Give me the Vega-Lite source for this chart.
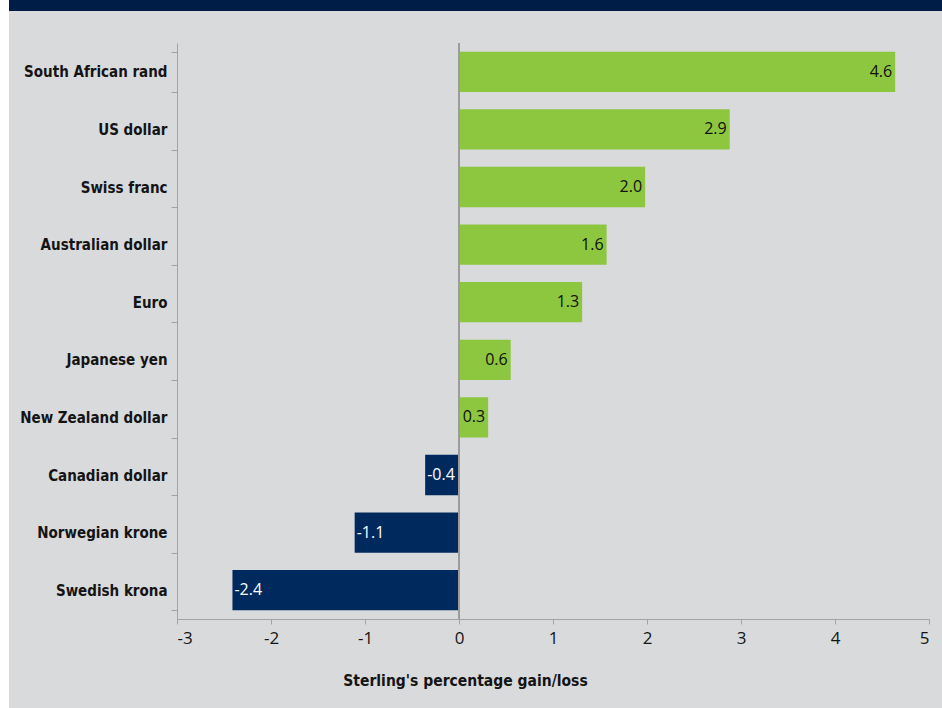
{
  "$schema": "https://vega.github.io/schema/vega-lite/v6.json",
  "background": "#d9dadc",
  "padding": 0,
  "spacing": 0,
  "config": {"view": {"stroke": null}},
  "hconcat": [
    {
      "width": 9,
      "height": 708,
      "view": {"fill": "#ffffff", "stroke": null},
      "data": {"values": []},
      "mark": "rect"
    },
    {
      "spacing": 25,
      "vconcat": [
        {
          "width": 933,
          "height": 11,
          "view": {"fill": "#001d48", "stroke": null},
          "data": {"values": []},
          "mark": "rect"
        },
        {
          "spacing": 0,
          "hconcat": [
            {
              "width": 1,
              "height": 1,
              "view": {"stroke": null},
              "data": {"values": []},
              "mark": "rect"
            },
            {
              "width": 752,
              "height": 576,
              "data": {
                "values": [
                  {"currency": "South African rand", "change": 4.64, "label": "4.6"},
                  {"currency": "US dollar", "change": 2.88, "label": "2.9"},
                  {"currency": "Swiss franc", "change": 1.98, "label": "2.0"},
                  {"currency": "Australian dollar", "change": 1.57, "label": "1.6"},
                  {"currency": "Euro", "change": 1.31, "label": "1.3"},
                  {"currency": "Japanese yen", "change": 0.55, "label": "0.6"},
                  {"currency": "New Zealand dollar", "change": 0.31, "label": "0.3"},
                  {"currency": "Canadian dollar", "change": -0.36, "label": "-0.4"},
                  {"currency": "Norwegian krone", "change": -1.11, "label": "-1.1"},
                  {"currency": "Swedish krona", "change": -2.41, "label": "-2.4"}
                ]
              },
              "layer": [
                {
                  "mark": {"type": "bar"},
                  "encoding": {
                    "y": {
                      "field": "currency",
                      "type": "nominal",
                      "sort": null,
                      "scale": {"paddingInner": 0.3, "paddingOuter": 0.15},
                      "axis": {
                        "title": null,
                        "domainColor": "#a3a3a3",
                        "tickColor": "#a3a3a3",
                        "tickBand": "extent",
                        "tickSize": 6,
                        "labelPadding": 4,
                        "labelFont": "DejaVu Sans Condensed",
                        "labelFontWeight": "bold",
                        "labelFontSize": 15,
                        "labelColor": "#141414",
                        "labelLimit": 300,
                        "minExtent": 167,
                        "maxExtent": 167
                      }
                    },
                    "x": {
                      "field": "change",
                      "type": "quantitative",
                      "scale": {"domain": [-3, 5], "nice": false, "zero": false},
                      "axis": {
                        "values": [-3, -2, -1, 0, 1, 2, 3, 4, 5],
                        "labelExpr": "'' + datum.value",
                        "grid": false,
                        "domainColor": "#a3a3a3",
                        "tickColor": "#a3a3a3",
                        "tickSize": 5,
                        "labelPadding": 6,
                        "labelFont": "Open Sans",
                        "labelFontSize": 17,
                        "labelColor": "#141414",
                        "title": "Sterling's percentage gain/loss",
                        "titleFont": "DejaVu Sans Condensed",
                        "titleFontWeight": "bold",
                        "titleFontSize": 15.5,
                        "titleColor": "#141414",
                        "titleX": 288,
                        "titleY": 66,
                        "titleAlign": "center",
                        "titleBaseline": "alphabetic"
                      }
                    },
                    "color": {
                      "condition": {"test": "datum.change < 0", "value": "#002a5e"},
                      "value": "#8dc63f"
                    }
                  }
                },
                {
                  "data": {"values": [{"zero": 0}]},
                  "mark": {"type": "rule", "color": "#9c9c9c", "strokeWidth": 2},
                  "encoding": {"x": {"field": "zero", "type": "quantitative"}}
                },
                {
                  "transform": [{"filter": "datum.change >= 0"}],
                  "mark": {"type": "text", "align": "right", "baseline": "middle", "dx": -3, "font": "Open Sans", "fontSize": 16, "color": "#111111"},
                  "encoding": {
                    "y": {"field": "currency", "type": "nominal", "sort": null},
                    "x": {"field": "change", "type": "quantitative"},
                    "text": {"field": "label"}
                  }
                },
                {
                  "transform": [{"filter": "datum.change < 0"}],
                  "mark": {"type": "text", "align": "left", "baseline": "middle", "dx": 2, "font": "Open Sans", "fontSize": 16, "color": "#ffffff"},
                  "encoding": {
                    "y": {"field": "currency", "type": "nominal", "sort": null},
                    "x": {"field": "change", "type": "quantitative"},
                    "text": {"field": "label"}
                  }
                }
              ]
            }
          ]
        }
      ]
    }
  ]
}
